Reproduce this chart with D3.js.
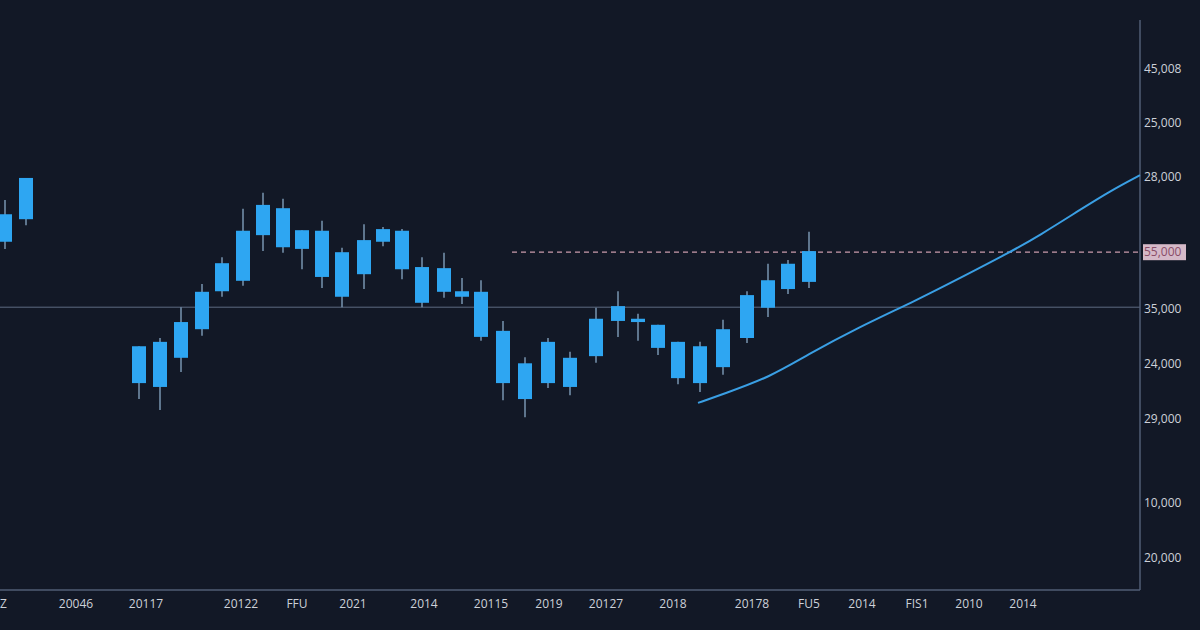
<!DOCTYPE html>
<html>
<head>
<meta charset="utf-8">
<script src="https://cdn.jsdelivr.net/npm/d3@7"></script>
<style>
  html, body { margin: 0; padding: 0; background: #121826; }
  svg { display: block; }
</style>
</head>
<body>
<svg id="chart" width="1200" height="630"></svg>
<script>
// ---- data (session time, price units) ----
const times = [0.25, 1.3, 6.95, 8, 9.05, 10.1, 11.1, 12.15, 13.15, 14.15, 15.1, 16.1, 17.1, 18.2, 19.15, 20.1, 21.1, 22.2, 23.1, 24.05, 25.15, 26.25, 27.4, 28.5, 29.8, 30.9, 31.9, 32.9, 33.9, 35.0, 36.15, 37.35, 38.4, 39.4, 40.45];
const opens  = [161.5, 165.6, 142.5, 135.1, 140.4, 145.6, 152.5, 154.4, 162.7, 167.6, 163.6, 163.5, 159.6, 155.6, 161.5, 163.5, 156.9, 152.4, 152.5, 152.4, 145.3, 139.4, 135.8, 135.1, 140.7, 147.1, 147.5, 146.4, 143.3, 135.8, 138.7, 144.0, 149.5, 152.9, 154.2];
const closes = [166.5, 173.1, 135.8, 143.3, 146.9, 152.4, 157.6, 163.5, 168.2, 160.5, 160.2, 155.1, 151.5, 161.8, 163.8, 156.5, 150.4, 156.7, 151.5, 144.2, 135.8, 132.9, 143.3, 140.4, 147.5, 149.8, 146.9, 142.2, 136.7, 142.5, 145.6, 151.8, 154.5, 157.5, 159.8];
const highs  = [169.1, 173.1, 142.5, 144.0, 149.6, 153.8, 158.7, 167.5, 170.4, 169.3, 163.6, 165.3, 160.4, 164.7, 164.2, 163.8, 158.7, 159.5, 154.9, 154.5, 147.1, 140.5, 144.0, 141.5, 149.5, 152.5, 148.4, 146.4, 143.3, 143.3, 147.3, 152.5, 157.5, 158.2, 163.3];
const lows   = [160.2, 164.5, 132.9, 130.9, 137.8, 144.4, 151.5, 153.5, 159.8, 159.5, 156.5, 153.1, 149.6, 152.9, 160.7, 154.7, 149.6, 151.3, 150.2, 143.5, 132.7, 129.6, 134.9, 133.6, 139.5, 144.2, 143.5, 140.9, 135.6, 134.2, 137.3, 143.1, 147.8, 152.0, 153.1];

const trendTimes  = [34.9, 36.15, 38.5, 40.35, 42.85, 45.85, 48, 50.5, 52, 54, 55.5, 57];
const trendValues = [132.2, 133.8, 136.9, 140.9, 145.8, 150.9, 154.9, 159.6, 162.7, 167.3, 170.7, 173.6];

const baseLevel = 149.6;       // solid horizontal line
const markLevel = 159.6;       // dashed price line
const markStart = 25.6;        // dashed line start (time)
const markLabel = "55,000";

const yTickValues = [192.9, 183.1, 173.3, 149.3, 139.3, 129.3, 114.0, 104.0];
const yTickLabels = ["45,008", "25,000", "28,000", "35,000", "24,000", "29,000", "10,000", "20,000"];

const xTickTimes  = [0.17, 3.8, 7.3, 12.05, 14.85, 17.65, 21.2, 24.55, 27.45, 30.3, 33.65, 37.6, 40.45, 43.1, 45.85, 48.45, 51.15];
const xTickLabels = ["Z", "20046", "20117", "20122", "FFU", "2021", "2014", "20115", "2019", "20127", "2018", "20178", "FU5", "2014", "FIS1", "2010", "2014"];

// ---- layout ----
const svg = d3.select("#chart");
const plotRight = 1140, plotBottom = 590, plotTop = 20;
const x = d3.scaleLinear().domain([0, 57]).range([0, plotRight]);
const y = d3.scaleLinear().domain([100, 200]).range([580, 30]);

const font = "'Open Sans', 'DejaVu Sans', sans-serif";

// base horizontal line
svg.append("line")
  .attr("x1", 0).attr("x2", plotRight)
  .attr("y1", y(baseLevel)).attr("y2", y(baseLevel))
  .attr("stroke", "#5d6a82").attr("stroke-width", 1);

// dashed mark line
svg.append("line")
  .attr("x1", x(markStart)).attr("x2", plotRight)
  .attr("y1", y(markLevel)).attr("y2", y(markLevel))
  .attr("stroke", "#c99aac").attr("stroke-width", 1.3)
  .attr("stroke-dasharray", "5,4");

// axes frame
svg.append("line")
  .attr("x1", plotRight).attr("x2", plotRight)
  .attr("y1", plotTop).attr("y2", plotBottom)
  .attr("stroke", "#505d74").attr("stroke-width", 1.5);
svg.append("line")
  .attr("x1", 0).attr("x2", plotRight)
  .attr("y1", plotBottom).attr("y2", plotBottom)
  .attr("stroke", "#505d74").attr("stroke-width", 1.5);

// candles
const candles = times.map((t, i) => ({t, o: opens[i], c: closes[i], h: highs[i], l: lows[i]}));
const bw = x(0.7) - x(0);
const g = svg.append("g");
g.selectAll("line.wick").data(candles).join("line")
  .attr("class", "wick")
  .attr("x1", d => x(d.t)).attr("x2", d => x(d.t))
  .attr("y1", d => y(d.h)).attr("y2", d => y(d.l))
  .attr("stroke", "#7894b0").attr("stroke-width", 1.5);
g.selectAll("rect.body").data(candles).join("rect")
  .attr("class", "body")
  .attr("x", d => x(d.t) - bw / 2)
  .attr("width", bw)
  .attr("y", d => y(Math.max(d.o, d.c)))
  .attr("height", d => Math.max(2.5, Math.abs(y(d.o) - y(d.c))))
  .attr("fill", "#2ea6f2");

// trend line
const line = d3.line().x((d, i) => x(trendTimes[i])).y(d => y(d)).curve(d3.curveBasis);
svg.append("path")
  .datum(trendValues)
  .attr("d", line)
  .attr("fill", "none")
  .attr("stroke", "#3a9fe4")
  .attr("stroke-width", 2);

// y tick labels
svg.append("g").selectAll("text").data(yTickValues).join("text")
  .attr("x", plotRight + 4)
  .attr("y", d => y(d))
  .attr("dy", "0.35em")
  .attr("font-family", font).attr("font-size", 12)
  .attr("fill", "#cdd1d9")
  .text((d, i) => yTickLabels[i]);

// highlighted mark label
const lbl = svg.append("g");
lbl.append("rect")
  .attr("x", plotRight + 3).attr("y", y(markLevel) - 8)
  .attr("width", 43).attr("height", 16)
  .attr("fill", "#d5b9c8");
lbl.append("text")
  .attr("x", plotRight + 4).attr("y", y(markLevel))
  .attr("dy", "0.35em")
  .attr("font-family", font).attr("font-size", 12)
  .attr("fill", "#8a4d68")
  .text(markLabel);

// x tick labels
svg.append("g").selectAll("text").data(xTickTimes).join("text")
  .attr("x", d => x(d))
  .attr("y", 608)
  .attr("text-anchor", "middle")
  .attr("font-family", font).attr("font-size", 12)
  .attr("fill", "#cdd1d9")
  .text((d, i) => xTickLabels[i]);
</script>
</body>
</html>
